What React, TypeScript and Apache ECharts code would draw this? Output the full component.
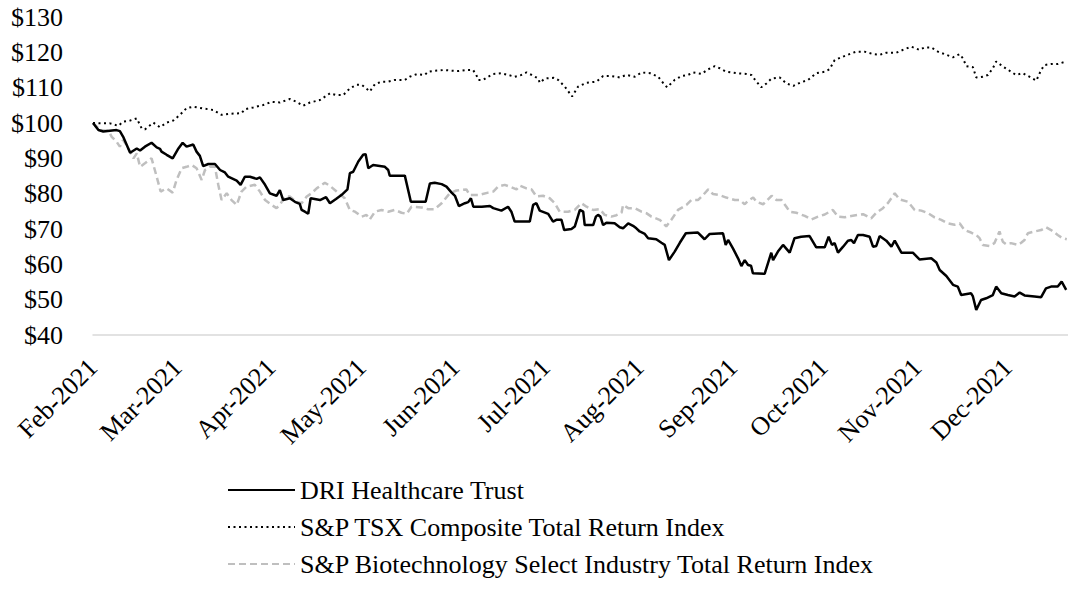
import React, { useEffect, useRef } from "react";
import * as echarts from "echarts";

const monthLabels = ["Feb-2021", "Mar-2021", "Apr-2021", "May-2021", "Jun-2021", "Jul-2021", "Aug-2021", "Sep-2021", "Oct-2021", "Nov-2021", "Dec-2021"];
// day offsets from 11-Feb-2021 of each month label
const monthDays = [0, 28, 59, 89, 120, 150, 181, 212, 242, 273, 303];
const lastDay = 323;

const seriesNames = [
  "DRI Healthcare Trust",
  "S&P TSX Composite Total Return Index",
  "S&P Biotechnology Select Industry Total Return Index",
];

const driDays = [0, 1.8, 3.4, 5.6, 7.8, 8.9, 10.0, 12.3, 14.5, 15.6, 17.2, 19.4, 21.1, 22.2, 22.7, 24.4, 26.4, 28.3, 29.7, 31.0, 33.2, 34.3, 35.4, 36.5, 38.2, 40.4, 42.1, 43.7, 44.8, 47.6, 48.9, 50.3, 52.0, 54.2, 55.3, 57.0, 58.6, 60.8, 61.9, 63.0, 65.2, 66.9, 68.5, 69.1, 70.2, 71.3, 72.1, 75.2, 77.2, 78.5, 80.5, 82.3, 84.3, 85.1, 86.2, 87.9, 89.5, 90.3, 91.2, 92.8, 96.7, 97.8, 98.3, 103.3, 105.3, 110.2, 111.6, 113.2, 115.5, 117.1, 118.8, 119.9, 121.2, 123.2, 124.3, 125.2, 126.0, 128.8, 131.5, 132.6, 135.3, 137.5, 138.6, 139.7, 144.7, 145.8, 146.9, 148.0, 150.8, 152.4, 153.5, 155.2, 156.1, 158.5, 159.6, 161.3, 162.4, 162.9, 165.7, 166.6, 167.3, 168.1, 169.0, 170.1, 172.8, 174.5, 175.6, 177.3, 178.9, 180.0, 181.1, 182.8, 183.9, 186.6, 188.3, 189.4, 190.8, 192.7, 194.4, 196.4, 200.4, 202.6, 204.3, 208.7, 209.6, 210.4, 212.0, 213.7, 214.8, 215.9, 217.0, 218.0, 218.6, 222.5, 224.7, 225.3, 226.9, 228.6, 230.8, 232.4, 234.6, 237.4, 239.6, 242.4, 243.7, 244.8, 245.7, 246.8, 248.5, 250.1, 251.2, 252.1, 253.4, 255.1, 257.3, 258.4, 259.5, 260.6, 262.8, 264.5, 265.6, 267.8, 271.6, 273.8, 277.7, 279.4, 280.5, 282.7, 284.9, 286.5, 287.6, 290.9, 291.5, 292.6, 294.2, 295.9, 298.1, 299.2, 300.9, 303.1, 305.3, 307.0, 308.6, 311.9, 314.1, 315.7, 317.4, 319.6, 320.9, 322.4];
const driValues = [100, 98.0, 97.6, 97.8, 98.0, 97.7, 96.1, 91.6, 92.8, 92.2, 93.3, 94.4, 93.1, 92.7, 91.9, 91.0, 90.0, 92.8, 94.4, 93.3, 93.9, 91.9, 90.7, 87.8, 88.4, 88.4, 86.7, 86.0, 84.8, 83.7, 82.5, 84.8, 84.8, 84.2, 84.6, 82.5, 80.1, 79.4, 81.0, 78.2, 78.7, 77.7, 77.1, 75.4, 74.9, 74.3, 78.7, 78.2, 79.0, 77.3, 78.5, 79.6, 81.2, 85.8, 86.2, 89.1, 91.0, 91.2, 87.2, 88.1, 87.6, 86.7, 85.1, 85.1, 77.7, 77.7, 82.9, 83.1, 82.7, 82.0, 80.3, 79.4, 76.5, 77.3, 77.6, 78.7, 76.3, 76.3, 76.5, 75.9, 75.2, 76.3, 74.9, 72.1, 72.1, 76.8, 77.3, 75.2, 74.3, 72.1, 72.6, 72.6, 69.7, 70.0, 70.7, 75.4, 74.9, 71.1, 71.1, 73.5, 74.0, 73.5, 71.1, 71.8, 71.6, 70.5, 70.2, 71.6, 70.9, 70.2, 69.3, 68.6, 67.4, 67.1, 66.1, 65.5, 61.2, 63.6, 66.1, 68.8, 69.0, 67.1, 68.6, 68.8, 65.5, 66.9, 64.5, 61.7, 59.5, 61.2, 59.8, 59.6, 57.5, 57.3, 63.3, 61.2, 63.6, 65.5, 63.3, 67.4, 67.8, 68.0, 64.8, 64.8, 67.8, 65.5, 66.0, 63.3, 65.0, 66.7, 66.9, 66.0, 68.3, 68.3, 67.8, 65.0, 65.2, 68.0, 66.7, 65.0, 66.7, 63.3, 63.3, 61.4, 61.7, 60.5, 58.4, 56.7, 54.2, 53.7, 51.3, 51.8, 50.9, 47.1, 49.9, 50.4, 51.3, 53.7, 51.8, 51.3, 50.9, 52.0, 51.2, 50.9, 50.7, 53.2, 53.7, 53.7, 55.1, 52.8];

const tsxDays = [0, 2.3, 5.6, 8.4, 10.0, 12.3, 14.5, 16.1, 17.2, 20.0, 22.2, 24.4, 26.6, 28.8, 31.0, 33.2, 36.5, 39.8, 42.6, 45.4, 49.2, 50.3, 53.1, 56.4, 59.2, 61.9, 65.2, 67.4, 69.6, 71.9, 75.2, 78.5, 80.7, 82.9, 85.1, 87.3, 89.0, 91.2, 91.7, 93.4, 95.6, 97.8, 100.0, 103.3, 104.9, 107.2, 109.9, 111.0, 113.2, 116.4, 118.8, 121.0, 123.7, 125.9, 127.0, 127.6, 129.2, 130.9, 132.6, 135.3, 137.5, 139.7, 141.9, 143.6, 145.3, 147.5, 148.0, 149.7, 152.5, 154.1, 156.3, 158.7, 160.7, 163.5, 166.8, 169.0, 171.7, 174.5, 176.7, 179.5, 181.7, 184.5, 187.2, 189.0, 190.2, 192.7, 195.0, 197.1, 198.8, 201.6, 203.8, 206.0, 207.6, 209.8, 213.1, 216.4, 218.1, 219.8, 221.4, 223.1, 224.8, 227.5, 229.7, 232.0, 234.2, 236.9, 239.6, 242.4, 244.0, 245.7, 248.5, 251.2, 252.9, 255.6, 258.4, 260.6, 262.8, 266.1, 268.9, 271.1, 273.8, 275.5, 277.7, 279.9, 282.7, 284.9, 287.1, 288.2, 289.3, 291.5, 292.6, 294.8, 296.5, 298.1, 299.2, 301.4, 303.6, 305.8, 308.0, 310.2, 312.5, 314.1, 315.2, 317.4, 319.6, 322.4];
const tsxValues = [100, 99.9, 99.9, 99.2, 100.4, 100.7, 101.3, 98.5, 98.2, 100.1, 98.8, 100.1, 100.7, 102.3, 104.2, 104.6, 104.1, 103.7, 102.3, 102.6, 102.8, 103.9, 104.4, 105.1, 106.0, 105.8, 106.8, 106.0, 104.9, 105.8, 106.5, 108.4, 107.9, 107.9, 109.8, 110.8, 110.8, 109.3, 108.9, 111.0, 111.7, 111.7, 112.2, 112.2, 113.1, 113.8, 113.6, 114.5, 114.8, 115.0, 114.8, 114.7, 115.0, 115.0, 113.6, 112.2, 112.2, 113.1, 113.9, 114.1, 113.6, 113.1, 113.6, 114.3, 113.6, 112.6, 111.4, 112.6, 112.8, 112.2, 110.3, 107.5, 110.3, 111.4, 111.7, 113.3, 113.3, 112.9, 113.6, 113.1, 114.3, 114.1, 113.1, 111.2, 110.1, 112.2, 113.3, 113.6, 114.3, 113.9, 115.2, 116.1, 115.5, 114.5, 114.1, 113.9, 113.6, 111.7, 110.1, 111.2, 112.6, 112.9, 111.2, 110.5, 111.4, 112.2, 114.1, 114.5, 115.2, 117.8, 118.8, 119.7, 120.2, 120.2, 119.5, 119.3, 119.9, 119.9, 120.9, 121.6, 120.7, 121.4, 121.4, 120.2, 119.3, 118.6, 119.5, 118.3, 116.1, 115.8, 112.9, 113.1, 113.6, 115.5, 117.4, 116.0, 114.8, 113.6, 114.1, 113.1, 112.0, 115.0, 116.4, 116.7, 116.7, 117.4];

const bioDays = [0, 2.3, 5.1, 6.2, 7.8, 8.9, 10.0, 11.1, 13.4, 14.5, 15.6, 17.2, 19.4, 21.1, 22.4, 24.4, 26.4, 27.7, 29.4, 31.0, 32.7, 34.3, 36.0, 37.1, 38.7, 40.4, 41.5, 42.6, 44.3, 45.9, 47.6, 49.2, 50.9, 53.6, 55.3, 57.0, 59.2, 60.8, 61.9, 63.6, 65.2, 67.4, 69.1, 70.8, 72.4, 74.1, 76.8, 78.5, 80.7, 83.4, 85.1, 86.8, 89.0, 90.6, 91.7, 93.4, 95.6, 97.8, 100.0, 102.2, 103.9, 105.5, 108.8, 111.0, 113.2, 115.5, 118.2, 120.4, 123.7, 124.8, 127.6, 130.9, 132.6, 134.2, 136.4, 138.6, 140.3, 141.4, 143.6, 145.3, 146.9, 149.1, 151.3, 153.0, 154.6, 157.4, 159.6, 161.8, 163.5, 165.7, 167.9, 169.5, 171.7, 173.4, 175.1, 175.6, 177.3, 179.5, 181.7, 183.3, 185.0, 187.7, 188.8, 189.9, 191.6, 193.8, 196.6, 198.2, 200.4, 202.1, 203.8, 205.4, 207.6, 209.8, 212.6, 214.3, 215.9, 217.0, 218.7, 219.8, 222.0, 224.8, 226.4, 228.1, 229.7, 230.8, 233.0, 235.8, 238.0, 240.2, 242.4, 245.1, 246.8, 249.0, 251.2, 253.4, 255.1, 257.8, 259.5, 261.7, 263.3, 265.6, 267.2, 270.0, 272.2, 274.4, 276.6, 278.8, 281.0, 283.2, 285.4, 287.1, 288.7, 290.9, 292.6, 293.7, 294.8, 297.0, 298.6, 300.3, 301.4, 302.5, 304.1, 306.4, 307.5, 308.6, 309.7, 311.9, 314.1, 315.7, 317.4, 319.6, 321.2, 322.6];
const bioValues = [100, 98.0, 97.8, 96.1, 94.7, 93.3, 95.2, 93.8, 90.0, 91.4, 87.6, 88.6, 90.0, 84.8, 80.6, 81.5, 80.3, 83.9, 87.2, 87.6, 88.1, 87.2, 83.9, 86.7, 87.6, 87.6, 82.5, 78.2, 80.1, 78.2, 76.8, 80.6, 82.0, 82.5, 80.6, 78.2, 76.8, 75.9, 76.8, 79.2, 79.2, 77.7, 77.3, 79.2, 80.1, 81.5, 83.1, 82.2, 80.6, 78.7, 75.4, 74.9, 73.5, 74.0, 72.7, 74.9, 75.4, 74.9, 75.4, 74.6, 74.3, 76.3, 76.1, 75.6, 75.6, 77.3, 80.1, 80.9, 81.2, 79.6, 79.6, 80.3, 80.6, 82.0, 82.5, 81.8, 81.2, 82.3, 81.5, 81.2, 79.2, 79.4, 78.7, 77.3, 74.9, 74.9, 75.4, 77.3, 76.3, 75.4, 75.6, 74.0, 73.5, 73.9, 74.6, 76.8, 75.9, 75.9, 74.9, 74.5, 73.5, 72.6, 71.8, 70.7, 72.6, 75.4, 76.8, 78.2, 78.2, 79.6, 81.2, 79.9, 79.6, 78.9, 78.2, 78.2, 77.0, 78.0, 78.9, 77.7, 77.0, 79.4, 78.2, 78.2, 76.3, 74.9, 74.6, 73.7, 72.7, 73.5, 74.1, 75.4, 73.5, 73.3, 73.7, 74.0, 74.2, 73.0, 74.6, 75.9, 77.3, 80.1, 78.4, 77.7, 75.4, 75.2, 74.5, 73.3, 72.6, 71.6, 71.2, 71.6, 69.7, 69.0, 68.3, 67.4, 65.5, 65.2, 66.0, 69.3, 66.4, 65.7, 66.0, 65.5, 66.1, 66.9, 68.8, 69.3, 69.7, 70.5, 69.7, 68.3, 67.4, 67.1];

const FONT = "'Liberation Serif', 'Times New Roman', serif";

export default function App() {
  const ref = useRef<HTMLDivElement>(null);
  useEffect(() => {
    if (!ref.current) return;
    const chart = echarts.init(ref.current, null, { renderer: "svg" });
    const zip = (d: number[], v: number[]) => d.map((x, i) => [x, v[i]]);
    chart.setOption({
      animation: false,
      backgroundColor: "#fff",
      textStyle: { fontFamily: FONT, color: "#000" },
      grid: { left: 93, right: 0, top: 17, bottom: 261, containLabel: false },
      xAxis: {
        type: "value",
        min: 0,
        max: lastDay,
        axisLine: { show: true, lineStyle: { color: "#D9D9D9", width: 1.5 } },
        axisTick: { show: false },
        splitLine: { show: false },
        axisLabel: {
          customValues: monthDays,
          rotate: 45,
          margin: 28,
          fontSize: 26,
          color: "#000",
          fontFamily: FONT,
          formatter: (v: number) => {
            const i = monthDays.indexOf(v);
            return i >= 0 ? monthLabels[i] : "";
          },
        },
      },
      yAxis: {
        type: "value",
        min: 40,
        max: 130,
        interval: 10,
        axisLine: { show: false },
        axisTick: { show: false },
        splitLine: { show: false },
        axisLabel: {
          formatter: "${value}",
          margin: 30,
          fontSize: 26,
          color: "#000",
          fontFamily: FONT,
        },
      },
      legend: {
        orient: "vertical",
        left: 222,
        top: 472,
        itemWidth: 67,
        itemHeight: 14,
        itemGap: 11,
        data: seriesNames,
        itemStyle: { opacity: 0, borderWidth: 0 },
        textStyle: { fontSize: 26, color: "#000", fontFamily: FONT },
      },
      series: [
        {
          name: seriesNames[2],
          type: "line",
          symbol: "none",
          z: 1,
          data: zip(bioDays, bioValues),
          itemStyle: { color: "#BFBFBF" },
          lineStyle: { color: "#BFBFBF", width: 2.5, type: [7, 4] },
        },
        {
          name: seriesNames[1],
          type: "line",
          symbol: "none",
          z: 2,
          data: zip(tsxDays, tsxValues),
          itemStyle: { color: "#000" },
          lineStyle: { color: "#000", width: 2, type: [2, 3.5] },
        },
        {
          name: seriesNames[0],
          type: "line",
          symbol: "none",
          z: 3,
          data: zip(driDays, driValues),
          itemStyle: { color: "#000" },
          lineStyle: { color: "#000", width: 2.5 },
        },
      ],
    });
    return () => chart.dispose();
  }, []);
  return (
    <div
      ref={ref}
      style={{ position: "fixed", left: 0, top: 0, width: 1068, height: 596 }}
    />
  );
}
